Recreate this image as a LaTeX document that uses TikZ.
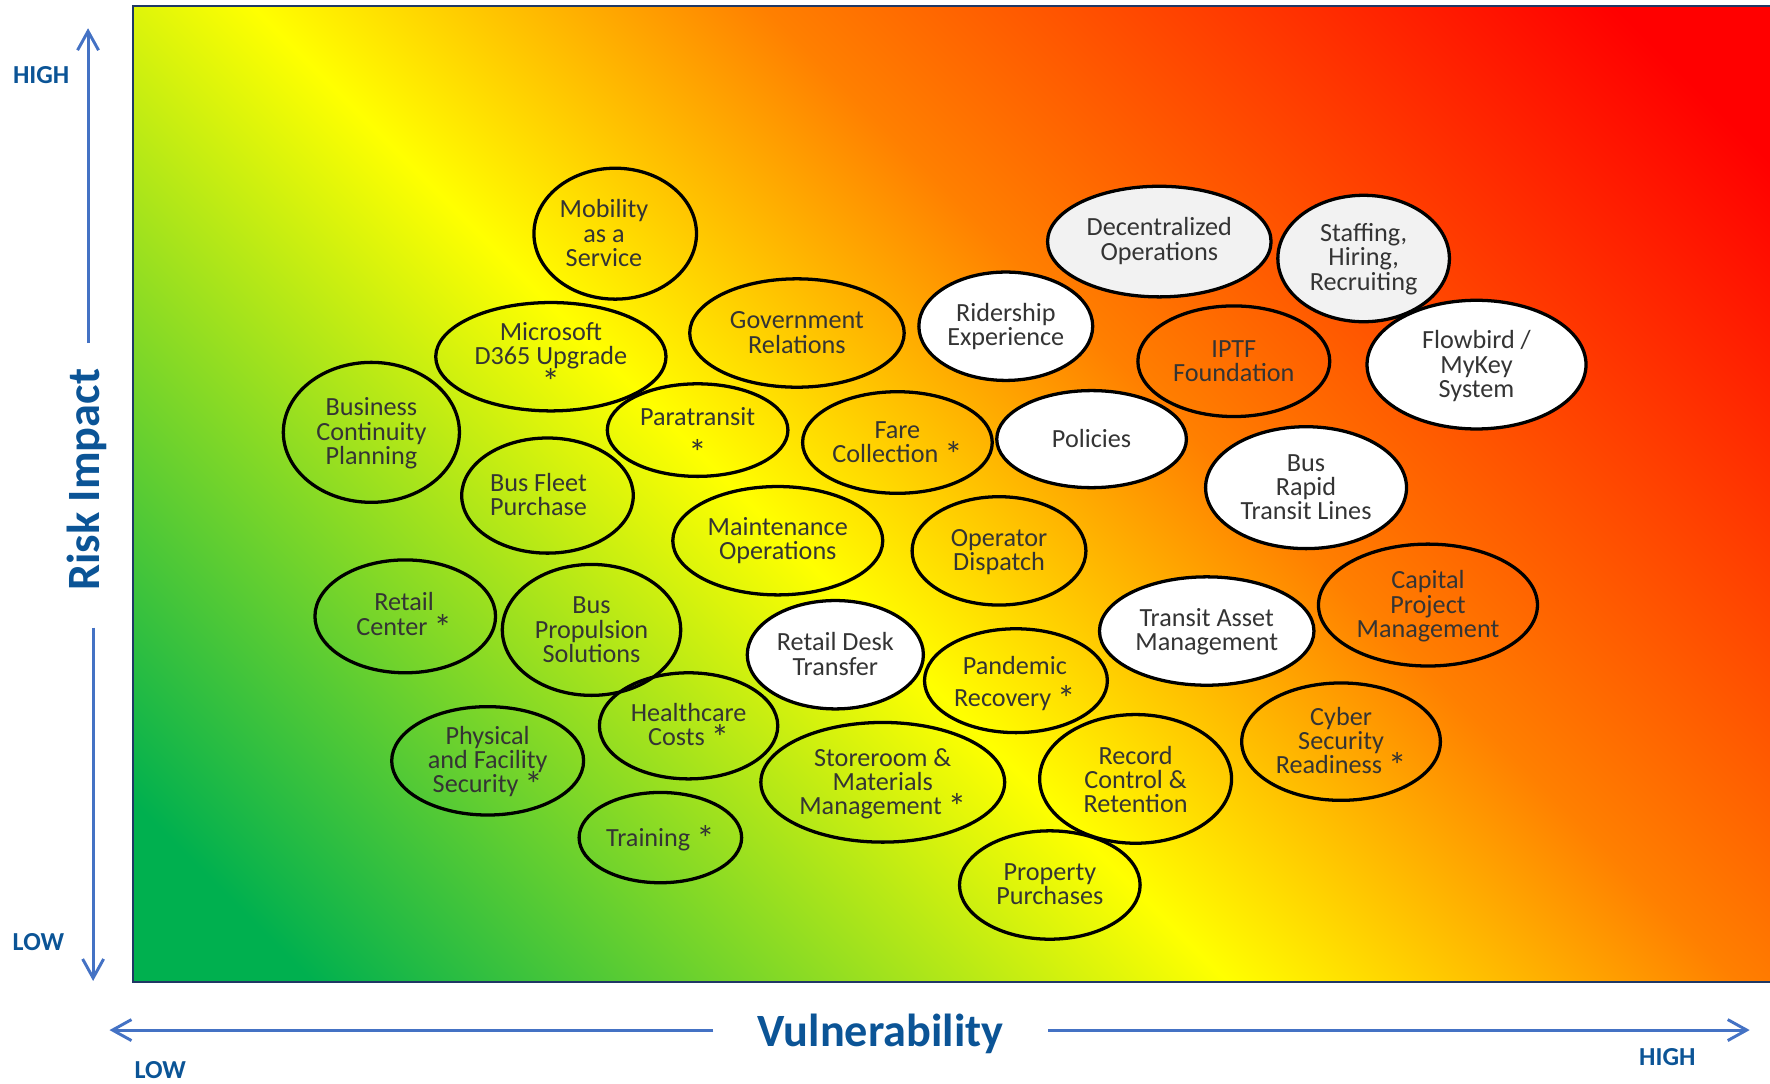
\documentclass[tikz,border=0pt]{standalone}
\usepackage{fontspec}
\usepackage{graphicx}
\setmainfont{Carlito}
\usetikzlibrary{shapes.geometric,arrows.meta}

\definecolor{axisblue}{RGB}{11,84,150}
\definecolor{arrowblue}{RGB}{68,114,196}
\definecolor{framenavy}{RGB}{31,56,100}
\definecolor{labelgray}{RGB}{52,52,52}
\definecolor{palegray}{RGB}{242,242,242}

% a slightly larger asterisk for flagged risks
\newcommand{\riskflag}{\raisebox{-2.2pt}{\scalebox{1.4}{*}}}
% bubble label font with a fixed line pitch
\newcommand{\bubblefont}{\fontsize{11.6}{10.8}\selectfont\setlength{\lineskiplimit}{-20pt}}

% green -> yellow -> orange -> red heat scale (runs along the diagonal)
\pgfdeclarehorizontalshading{riskheat}{100bp}{rgb(0bp)=(0,0.69,0.31); rgb(25.5bp)=(0,0.69,0.31); rgb(45.4bp)=(1,1,0); rgb(56.5bp)=(1,0.5,0); rgb(75bp)=(1,0,0); rgb(100bp)=(1,0,0)}

\begin{document}
\begin{tikzpicture}[x=0.5pt, y=-0.5pt,
  bubble/.style={ellipse, draw=black, line width=1.45pt, inner sep=0pt, outer sep=0pt},
  clearbubble/.style={bubble},
  whitebubble/.style={bubble, fill=white},
  greybubble/.style={bubble, fill=palegray},
  tag/.style={font=\bubblefont, text=labelgray, align=center, inner sep=0pt},
  axisname/.style={font=\fontsize{20.5}{24}\selectfont\bfseries, text=axisblue, inner sep=0pt},
  axisend/.style={font=\fontsize{11.5}{13}\selectfont\bfseries, text=axisblue, inner sep=0pt},
  axisarrow/.style={draw=arrowblue, line width=1.3pt, -{Straight Barb[length=8.4pt, width=9.3pt]}},
]
\useasboundingbox (0,0) rectangle (1568,960);

% heat-map panel
\begin{scope}
  \clip (118,5) rectangle (1568,870);
  \shade[shading=riskheat, shading angle=45] (118,-287.5) rectangle (1568,1162.5);
\end{scope}
\draw[framenavy, line width=0.9pt] (118,5) rectangle (1575,870);

% vertical axis
\coordinate (yupfoot) at (78,304);
\coordinate (yuptip) at (78,25);
\coordinate (ydownfoot) at (82.5,556);
\coordinate (ydowntip) at (82.5,869);
\draw[axisarrow] (yupfoot) -- (yuptip);
\draw[axisarrow] (ydownfoot) -- (ydowntip);
\node[axisname, rotate=90] (riskname) at (77,425) {Risk Impact};
\node[axisend] (yhigh) at (36.5,66.5) {HIGH};
\node[axisend] (ylow) at (34,834.5) {LOW};

% horizontal axis
\coordinate (xleftfoot) at (632,912.5);
\coordinate (xlefttip) at (97,912.5);
\coordinate (xrightfoot) at (928.5,912.5);
\coordinate (xrighttip) at (1550,912.5);
\draw[axisarrow] (xleftfoot) -- (xlefttip);
\draw[axisarrow] (xrightfoot) -- (xrighttip);
\node[axisname] (vulnname) at (780,916) {Vulnerability};
\node[axisend] (xlow) at (142,948) {LOW};
\node[axisend] (xhigh) at (1477,936) {HIGH};

% risk bubbles without fill
\node[clearbubble, minimum width=72pt, minimum height=58pt] (mobility) at (545,207) {};
\node[tag] (mobilityT) at (535,206.5) {Mobility\\as a\\Service};

\node[clearbubble, minimum width=102pt, minimum height=48pt] (dynamics) at (488,316) {};
\node[tag] (dynamicsT) at (488,317.5) {Microsoft\\D365 Upgrade\\\riskflag};

\node[clearbubble, minimum width=95pt, minimum height=48pt] (govrel) at (706,295) {};
\node[tag] (govrelT) at (706,294.5) {Government\\Relations};

\node[clearbubble, minimum width=85pt, minimum height=49pt] (iptf) at (1093,320) {};
\node[tag] (iptfT) at (1093,320) {IPTF\\Foundation};

\node[clearbubble, minimum width=78pt, minimum height=62pt] (bcp) at (329,383) {};
\node[tag] (bcpT) at (329,384) {Business\\Continuity\\Planning};

\node[clearbubble, minimum width=80pt, minimum height=41pt] (paratransit) at (618,381) {};
\node[tag] (paratransitT) at (618,386.5) {Paratransit\\[4.7pt]\riskflag};

\node[clearbubble, minimum width=84pt, minimum height=45pt] (fare) at (795,392) {};
\node[tag] (fareT) at (795,394) {Fare\\Collection \riskflag};

\node[clearbubble, minimum width=76pt, minimum height=51pt] (fleet) at (485,439) {};
\node[tag] (fleetT) at (477,438) {Bus Fleet\\Purchase};

\node[clearbubble, minimum width=93pt, minimum height=48pt] (maint) at (689,479) {};
\node[tag] (maintT) at (689,479) {Maintenance\\Operations};

\node[clearbubble, minimum width=77pt, minimum height=48pt] (dispatch) at (885,488) {};
\node[tag] (dispatchT) at (885,489) {Operator\\Dispatch};

\node[clearbubble, minimum width=80pt, minimum height=50pt] (retail) at (359,546) {};
\node[tag] (retailT) at (358,546) {Retail\\Center \riskflag};

\node[clearbubble, minimum width=79pt, minimum height=58pt] (propulsion) at (524,558) {};
\node[tag] (propulsionT) at (524,558) {Bus\\Propulsion\\Solutions};

\node[clearbubble, minimum width=81pt, minimum height=46pt] (pandemic) at (900,603) {};
\node[tag] (pandemicT) at (899,605.5) {Pandemic\\[3.3pt]Recovery \riskflag};

\node[clearbubble, minimum width=97pt, minimum height=54pt] (capital) at (1265,536) {};
\node[tag] (capitalT) at (1265,537) {Capital\\Project\\Management};

\node[clearbubble, minimum width=79pt, minimum height=47pt] (health) at (610,643) {};
\node[tag] (healthT) at (610,644) {Healthcare\\Costs \riskflag};

\node[clearbubble, minimum width=85pt, minimum height=48pt] (physical) at (432,674) {};
\node[tag] (physicalT) at (432,675) {Physical\\and Facility\\Security \riskflag};

\node[clearbubble, minimum width=108pt, minimum height=53pt] (storeroom) at (782,693) {};
\node[tag] (storeroomT) at (782,694.5) {Storeroom \&\\Materials\\Management \riskflag};

\node[clearbubble, minimum width=85pt, minimum height=57pt] (records) at (1006,690) {};
\node[tag] (recordsT) at (1006,690.5) {Record\\Control \&\\Retention};

\node[clearbubble, minimum width=88pt, minimum height=52pt] (cyber) at (1188,657) {};
\node[tag] (cyberT) at (1188,658) {Cyber\\Security\\Readiness \riskflag};

\node[clearbubble, minimum width=72pt, minimum height=40pt] (training) at (585,742) {};
\node[tag] (trainingT) at (585,743) {Training \riskflag};

\node[clearbubble, minimum width=80pt, minimum height=48pt] (property) at (930,784) {};
\node[tag] (propertyT) at (930,783.5) {Property\\Purchases};

% grey bubbles
\node[greybubble, minimum width=99pt, minimum height=49pt] (decentral) at (1027,214) {};
\node[tag] (decentralT) at (1027,213.5) {Decentralized\\Operations};

\node[greybubble, minimum width=76pt, minimum height=56pt] (staffing) at (1208,229) {};
\node[tag] (staffingT) at (1208,229.5) {Staffing,\\Hiring,\\Recruiting};

% white bubbles
\node[whitebubble, minimum width=77pt, minimum height=48pt] (ridership) at (891,289) {};
\node[tag] (ridershipT) at (891,289) {Ridership\\Experience};

\node[whitebubble, minimum width=97pt, minimum height=57pt] (flowbird) at (1308,323) {};
\node[tag] (flowbirdT) at (1308,324.5) {Flowbird /\\MyKey\\System};

\node[whitebubble, minimum width=84pt, minimum height=43pt] (policies) at (967,389) {};
\node[tag] (policiesT) at (967,388.5) {Policies};

\node[whitebubble, minimum width=89pt, minimum height=54pt] (brt) at (1157,432) {};
\node[tag] (brtT) at (1157,431.5) {Bus\\Rapid\\Transit Lines};

\node[whitebubble, minimum width=78pt, minimum height=48pt] (deskxfer) at (740,580) {};
\node[tag] (deskxferT) at (740,579.5) {Retail Desk\\Transfer};

\node[whitebubble, minimum width=95pt, minimum height=48pt] (assetmgmt) at (1069,559) {};
\node[tag] (assetmgmtT) at (1069,559.5) {Transit Asset\\Management};

\end{tikzpicture}
\end{document}
